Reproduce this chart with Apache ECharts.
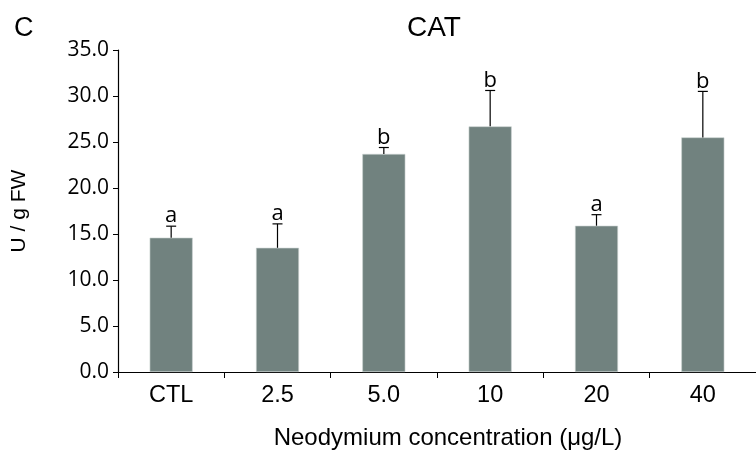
<!DOCTYPE html>
<html><head><meta charset="utf-8">
<script src="https://cdn.jsdelivr.net/npm/echarts@6/dist/echarts.min.js"></script>
<style>html,body{margin:0;padding:0;background:#fff}#c{width:756px;height:459px}</style>
</head><body><div id="c"></div>
<script>
const categories = ['CTL', '2.5', '5.0', '10', '20', '40'];
const means = [14.6, 13.5, 23.7, 26.7, 15.9, 25.5];
const errors = [1.25, 2.6, 0.7, 3.9, 1.2, 5.0];
const letters = ['a', 'a', 'b', 'b', 'a', 'b'];
const yTicks = [0, 5, 10, 15, 20, 25, 30, 35];

const chart = echarts.init(document.getElementById('c'));
const errData = categories.map((c, i) => [i, means[i], means[i] + errors[i], letters[i]]);
chart.setOption({
  animation: false,
  title: [
    {text: 'CAT', left: 429, top: 9, textAlign: 'center', textStyle: {fontFamily: 'Liberation Sans', fontSize: 28, fontWeight: 'normal', color: '#000'}},
    {text: 'C', left: 9, top: 10, textStyle: {fontFamily: 'Liberation Sans', fontSize: 27, fontWeight: 'normal', color: '#000'}}
  ],
  grid: {left: 118, top: 50, width: 640, height: 322, containLabel: false},
  xAxis: {
    type: 'category', data: categories,
    axisLine: {lineStyle: {color: '#000', width: 1.2}},
    axisTick: {show: true, alignWithLabel: false, length: 6, lineStyle: {color: '#000'}},
    axisLabel: {fontFamily: 'Liberation Sans', fontSize: 23.5, color: '#000', margin: 12},
    name: 'Neodymium concentration (μg/L)', nameLocation: 'middle', nameGap: 54,
    nameTextStyle: {fontFamily: 'Liberation Sans', fontSize: 24, color: '#000', padding: [0, 0, 0, 22]}
  },
  yAxis: {
    type: 'value', min: 0, max: 35, interval: 5,
    axisLine: {show: true, lineStyle: {color: '#000', width: 1.2}},
    axisTick: {show: true, length: 5, lineStyle: {color: '#000'}},
    splitLine: {show: false},
    axisLabel: {fontFamily: 'Open Sans', fontSize: 21, color: '#000', margin: 9,
      formatter: v => yTicks.includes(v) ? v.toFixed(1) : ''},
    name: 'U / g FW', nameLocation: 'middle', nameGap: 88, nameRotate: 90,
    nameTextStyle: {fontFamily: 'Liberation Sans', fontSize: 21, color: '#000', padding: [0, 0, 0, 0]}
  },
  series: [
    {type: 'bar', data: means, barWidth: 43, itemStyle: {color: '#71827f', borderColor: '#c9d1d0', borderWidth: 0.6}, z: 2},
    {type: 'custom', data: errData, z: 3,
      renderItem: function (params, api) {
        const i = api.value(0);
        const top = api.coord([i, api.value(2)]);
        const base = api.coord([i, api.value(1)]);
        const hw = 5;
        return {type: 'group', children: [
          {type: 'line', shape: {x1: top[0], y1: top[1], x2: base[0], y2: base[1]}, style: {stroke: '#000', lineWidth: 1.2}},
          {type: 'line', shape: {x1: top[0] - hw, y1: top[1], x2: top[0] + hw, y2: top[1]}, style: {stroke: '#000', lineWidth: 1.2}},
          {type: 'text', x: top[0], y: top[1] + 1, style: {text: api.value(3), fontFamily: 'Open Sans', fontSize: 22, fill: '#000', align: 'center', verticalAlign: 'bottom'}}
        ]};
      }
    }
  ]
});
</script></body></html>
